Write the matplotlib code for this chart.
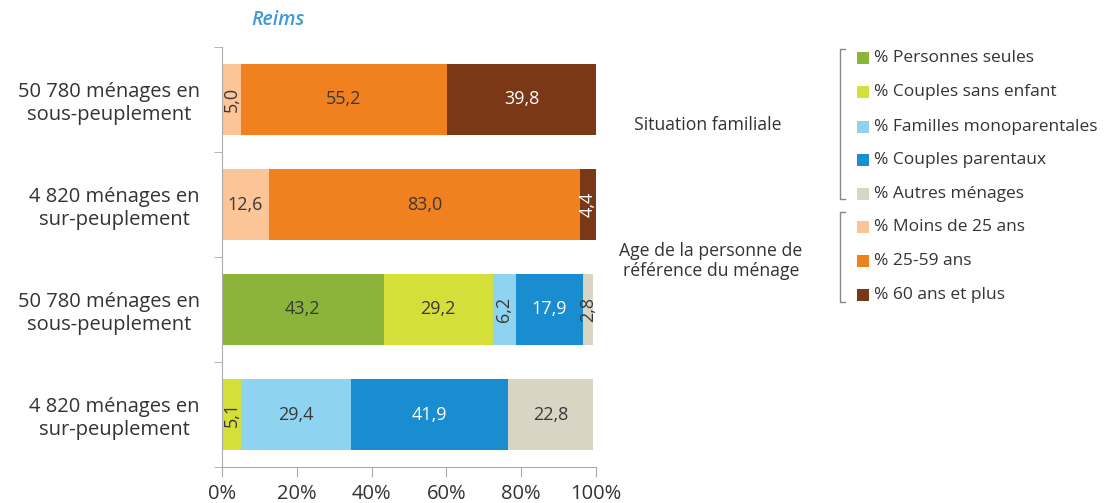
import matplotlib.pyplot as plt
from matplotlib.lines import Line2D
from matplotlib.patches import Rectangle
import numpy as np

plt.rcParams['font.family'] = ['Open Sans', 'DejaVu Sans']

# categories (top to bottom)
categories = [
    "50 780 ménages en\nsous-peuplement",
    "4 820 ménages en\nsur-peuplement",
    "50 780 ménages en\nsous-peuplement",
    "4 820 ménages en\nsur-peuplement",
]

# series in stacking order
series_names = [
    "% Moins de 25 ans", "% 25-59 ans", "% 60 ans et plus",
    "% Personnes seules", "% Couples sans enfant", "% Familles monoparentales",
    "% Couples parentaux", "% Autres ménages",
]
moins_25 = [5.0, 12.6, 0, 0]
age_25_59 = [55.2, 83.0, 0, 0]
plus_60 = [39.8, 4.4, 0, 0]
personnes_seules = [0, 0, 43.2, 0]
couples_sans_enfant = [0, 0, 29.2, 5.1]
familles_mono = [0, 0, 6.2, 29.4]
couples_parentaux = [0, 0, 17.9, 41.9]
autres_menages = [0, 0, 2.8, 22.8]
series_values = [moins_25, age_25_59, plus_60, personnes_seules,
                 couples_sans_enfant, familles_mono, couples_parentaux, autres_menages]

colors = {
    "% Moins de 25 ans": "#FBC597",
    "% 25-59 ans": "#F1801F",
    "% 60 ans et plus": "#7B3817",
    "% Personnes seules": "#8CB43A",
    "% Couples sans enfant": "#D5DF3A",
    "% Familles monoparentales": "#8ED4F1",
    "% Couples parentaux": "#1A8DD0",
    "% Autres ménages": "#D8D5C5",
}
text_colors = {
    "% 60 ans et plus": "white",
    "% Couples parentaux": "white",
}

W, H = 1112, 503
fig = plt.figure(figsize=(W / 100, H / 100), dpi=100)
ax = fig.add_axes([222 / W, 1 - 467 / H, (596 - 222) / W, (467 - 47) / H])

y = np.arange(len(categories))
left = np.zeros(len(categories))
for name, vals in zip(series_names, series_values):
    vals = np.array(vals, dtype=float)
    bars = ax.barh(y, vals, left=left, height=0.667, color=colors[name], linewidth=0)
    for rect, v in zip(bars, vals):
        if v <= 0:
            continue
        cx = rect.get_x() + rect.get_width() / 2
        cy = rect.get_y() + rect.get_height() / 2
        lab = f"{v:.1f}".replace(".", ",")
        rot = 90 if v < 7 else 0
        ax.text(cx, cy, lab, ha="center", va="center", rotation=rot,
                fontsize=13, color=text_colors.get(name, "#383838"))
    left += vals

ax.set_xlim(0, 100)
ax.set_ylim(len(categories) - 0.5, -0.5)
ax.set_xticks(np.arange(0, 101, 20))
ax.set_xticklabels([f"{t}%" for t in range(0, 101, 20)], fontsize=14.5, color="#333333")
ax.set_yticks(y)
ax.set_yticklabels(categories, fontsize=14.5, color="#333333", linespacing=1.2)
for lbl in ax.get_yticklabels():
    lbl.set_multialignment("center")
ax.set_yticks(np.arange(-0.5, len(categories) - 0.4, 1), minor=True)
ax.tick_params(axis="y", which="major", length=0, pad=16)
ax.tick_params(axis="y", which="minor", length=6, color="#aaaaaa")
ax.tick_params(axis="x", length=7, color="#aaaaaa", pad=5)
for s in ["top", "right"]:
    ax.spines[s].set_visible(False)
for s in ["left", "bottom"]:
    ax.spines[s].set_color("#aaaaaa")

fig.text(278 / W, 1 - 20 / H, "Reims", ha="center", va="center",
         fontsize=14, style="italic", weight="semibold", color="#3E9AD8")

# legend
legend_order = [
    "% Personnes seules", "% Couples sans enfant", "% Familles monoparentales",
    "% Couples parentaux", "% Autres ménages",
    "% Moins de 25 ans", "% 25-59 ans", "% 60 ans et plus",
]
leg_y = [58, 92, 127, 160, 194, 227, 261, 295]
for name, yy in zip(legend_order, leg_y):
    fig.add_artist(Rectangle((857 / W, 1 - (yy + 6) / H), 12 / W, 12 / H,
                             transform=fig.transFigure, color=colors[name], lw=0))
    fig.text(874 / W, 1 - yy / H, name, ha="left", va="center",
             fontsize=12.5, color="#333333")

for y0, y1 in [(49, 199), (212, 302)]:
    xs = [845, 840, 840, 845]
    ys = [y0, y0, y1, y1]
    fig.add_artist(Line2D([x / W for x in xs], [1 - v / H for v in ys],
                          transform=fig.transFigure, color="#888888", lw=1))

fig.text(708 / W, 1 - 125 / H, "Situation familiale", ha="center", va="center",
         fontsize=12.7, color="#333333")
fig.text(711 / W, 1 - 261 / H, "Age de la personne de\nréférence du ménage",
         ha="center", va="center", fontsize=12.7, color="#333333", linespacing=1.2)

fig.savefig("out.png", dpi=100)
